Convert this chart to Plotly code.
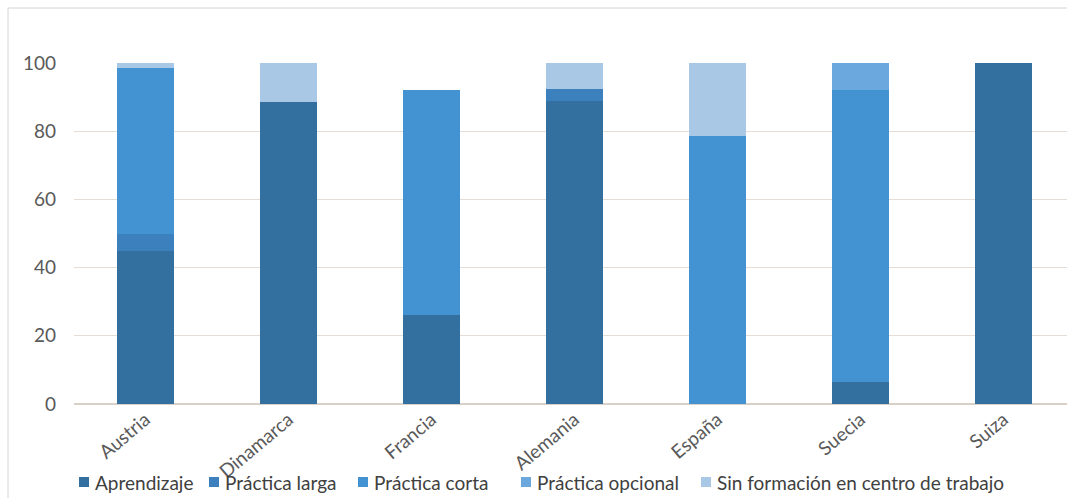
import plotly.graph_objects as go

# Share of VET students by type of workplace training, per country (%)
countries = ["Austria", "Dinamarca", "Francia", "Alemania", "España", "Suecia", "Suiza"]
aprendizaje = [45, 88.5, 26, 89, 0, 6.5, 100]
practica_larga = [5, 0, 0, 3.5, 0, 0, 0]
practica_corta = [48.5, 0, 66, 0, 78.5, 85.5, 0]
practica_opcional = [0, 0, 0, 0, 0, 8, 0]
sin_formacion = [1.5, 11.5, 0, 7.5, 21.5, 0, 0]

series_names = ["Aprendizaje", "Práctica larga", "Práctica corta",
                "Práctica opcional", "Sin formación en centro de trabajo"]
series_values = [aprendizaje, practica_larga, practica_corta,
                 practica_opcional, sin_formacion]
series_colors = ["#33709f", "#3c80bd", "#4393d3", "#6ba8de", "#a8c8e6"]

# canvas and plot-area geometry (px)
W, H = 1067, 498
PL, PT, PB = 74, 63, 94
pw, ph = W - PL, H - PT - PB
step = 143  # px per category


def px_x(px):
    return (px - PL) / pw


def px_y(py):
    return (H - PB - py) / ph


fig = go.Figure()
for name, vals, color in zip(series_names, series_values, series_colors):
    fig.add_trace(go.Bar(
        x=countries, y=vals, name=name,
        marker=dict(color=color, line=dict(width=0)),
        showlegend=False,
    ))

# legend row drawn along the bottom edge
legend_left = [79, 209, 358, 521, 701]
legend_yc = 482
shapes = []
annotations = []
for name, color, lx in zip(series_names, series_colors, legend_left):
    shapes.append(dict(
        type="rect", xref="paper", yref="paper",
        x0=px_x(lx), x1=px_x(lx + 10),
        y0=px_y(legend_yc + 5), y1=px_y(legend_yc - 5),
        fillcolor=color, line=dict(width=0),
    ))
    annotations.append(dict(
        text=name, xref="paper", yref="paper",
        x=px_x(lx + 14), y=px_y(legend_yc),
        xanchor="left", yanchor="middle", showarrow=False,
        font=dict(family="Lato", size=19, color="#404040"),
    ))

# outer frame of the chart
shapes.append(dict(
    type="rect", xref="paper", yref="paper",
    x0=px_x(8), x1=px_x(W + 5),
    y0=px_y(H + 5), y1=px_y(8),
    line=dict(color="#d4d4d4", width=1),
    layer="below",
))

fig.update_layout(
    width=W, height=H,
    barmode="stack",
    bargap=0.6,
    margin=dict(l=PL, r=0, t=PT, b=PB),
    plot_bgcolor="white",
    paper_bgcolor="white",
    font=dict(family="Lato", size=19, color="#595959"),
    showlegend=False,
    xaxis=dict(
        tickangle=-40,
        range=[-0.5, -0.5 + pw / step],
        showgrid=False,
        showline=False,
        ticks="",
        tickfont=dict(size=19, color="#595959"),
    ),
    yaxis=dict(
        range=[0, 100],
        tickvals=[0, 20, 40, 60, 80, 100],
        showgrid=True,
        gridcolor="#e6ddd5",
        gridwidth=1,
        zeroline=True,
        zerolinecolor="#d9d0c8",
        ticklabelstandoff=17,
        tickfont=dict(size=19, color="#595959"),
    ),
    shapes=shapes,
    annotations=annotations,
)

fig.write_html("out.html")
